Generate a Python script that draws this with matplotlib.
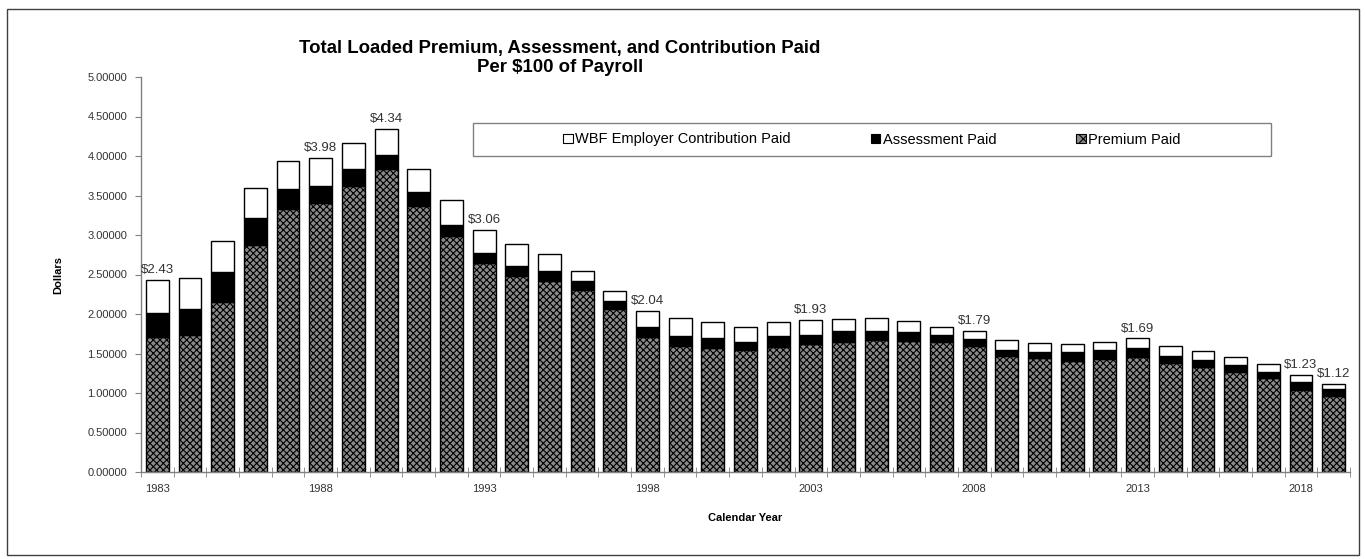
import matplotlib
matplotlib.use("Agg")
import matplotlib.pyplot as plt
from matplotlib.patches import Rectangle, Patch
import numpy as np

plt.rcParams["font.family"] = ["Liberation Sans", "DejaVu Sans"]
plt.rcParams["hatch.color"] = "black"
plt.rcParams["hatch.linewidth"] = 0.8

years = list(range(1983, 2020))
# cumulative tops, split into the three layers
premium = [1.71, 1.74, 2.15, 2.87, 3.33, 3.41, 3.62, 3.83, 3.37, 2.99,
           2.64, 2.48, 2.42, 2.30, 2.06, 1.71, 1.59, 1.57, 1.54, 1.58,
           1.62, 1.65, 1.67, 1.66, 1.64, 1.59, 1.47, 1.44, 1.41, 1.43,
           1.46, 1.38, 1.33, 1.26, 1.19, 1.04, 0.96]
assessment = [0.30, 0.32, 0.38, 0.35, 0.25, 0.21, 0.22, 0.18, 0.17, 0.14,
              0.13, 0.13, 0.12, 0.12, 0.10, 0.13, 0.13, 0.12, 0.11, 0.14,
              0.12, 0.13, 0.12, 0.11, 0.09, 0.09, 0.08, 0.08, 0.11, 0.11,
              0.11, 0.09, 0.09, 0.09, 0.08, 0.10, 0.09]
wbf = [0.42, 0.39, 0.39, 0.38, 0.36, 0.36, 0.33, 0.33, 0.30, 0.31,
       0.29, 0.27, 0.22, 0.13, 0.13, 0.20, 0.23, 0.21, 0.18, 0.18,
       0.19, 0.16, 0.16, 0.14, 0.11, 0.11, 0.12, 0.11, 0.10, 0.11,
       0.12, 0.12, 0.11, 0.11, 0.10, 0.09, 0.07]
labeled = {1983: "$2.43", 1988: "$3.98", 1990: "$4.34", 1993: "$3.06",
           1998: "$2.04", 2003: "$1.93", 2008: "$1.79", 2013: "$1.69",
           2018: "$1.23", 2019: "$1.12"}

fig = plt.figure(figsize=(13.65, 5.59), dpi=100)
ax = fig.add_axes([141 / 1365, 87 / 559, 1209 / 1365, 395 / 559])

x = np.arange(len(years))
prem = np.array(premium)
asmt = np.array(assessment)
top = prem + asmt + np.array(wbf)

ax.bar(x, prem, width=0.7, facecolor="#8a8a8a", hatch="xxxxx",
       edgecolor="black", linewidth=1.0)
ax.bar(x, asmt, bottom=prem, width=0.7, color="black",
       edgecolor="black", linewidth=1.0)
ax.bar(x, wbf, bottom=prem + asmt, width=0.7, color="white",
       edgecolor="black", linewidth=1.0)

for i, yr in enumerate(years):
    if yr in labeled:
        ax.text(i, top[i] + 0.05, labeled[yr], ha="center", va="bottom",
                fontsize=9.5, color="#333333")

ax.set_xlim(-0.5, len(years) - 0.5)
ax.set_ylim(0, 5)
ax.set_yticks(np.arange(0, 5.01, 0.5))
ax.set_yticklabels([f"{v:.5f}" for v in np.arange(0, 5.01, 0.5)])
lab_idx = [i for i, yr in enumerate(years) if (yr - 1983) % 5 == 0]
ax.set_xticks(lab_idx)
ax.set_xticklabels([str(years[i]) for i in lab_idx])
ax.set_xticks(np.arange(-0.5, len(years), 1.0), minor=True)
ax.tick_params(axis="x", which="major", length=0, pad=9, labelsize=8,
               labelcolor="#333333")
ax.tick_params(axis="x", which="minor", direction="inout", length=7,
               color="#808080")
ax.tick_params(axis="y", direction="out", length=4, color="#808080",
               labelsize=8, labelcolor="#333333", pad=6)

for s in ["top", "right"]:
    ax.spines[s].set_visible(False)
for s in ["left", "bottom"]:
    ax.spines[s].set_color("#808080")
    ax.spines[s].set_linewidth(1.0)

ax.set_xlabel("Calendar Year", fontsize=8, fontweight="bold", labelpad=13)
ax.set_ylabel("Dollars", fontsize=8, fontweight="bold", labelpad=17)

fig.text(560 / 1365, 1 - 48 / 559,
         "Total Loaded Premium, Assessment, and Contribution Paid",
         ha="center", va="center", fontsize=13.4, fontweight="bold")
fig.text(560 / 1365, 1 - 68 / 559, "Per $100 of Payroll",
         ha="center", va="center", fontsize=13.4, fontweight="bold")

# legend frame and entries
fig.patches.append(Rectangle((473 / 1365, 1 - 156 / 559), 798 / 1365,
                             33 / 559, transform=fig.transFigure,
                             facecolor="white", edgecolor="#808080",
                             linewidth=1.0, zorder=2))
handles = [Patch(facecolor="white", edgecolor="black", linewidth=0.8),
           Patch(facecolor="black", edgecolor="black", linewidth=0.8),
           Patch(facecolor="#8a8a8a", hatch="xxx", edgecolor="black",
                 linewidth=0.8)]
names = ["WBF Employer Contribution Paid", "Assessment Paid", "Premium Paid"]
fig.legend(handles, names, loc="center",
           bbox_to_anchor=(872 / 1365, 1 - 139.5 / 559), ncol=3,
           frameon=False, fontsize=10.5, handlelength=0.65,
           handleheight=0.65, handletextpad=0.15, columnspacing=5.5)

# outer border
fig.patches.append(Rectangle((7 / 1365, 4 / 559), 1352 / 1365, 546 / 559,
                             transform=fig.transFigure, fill=False,
                             edgecolor="#404040", linewidth=1.0))

fig.savefig("out.png", dpi=100)
